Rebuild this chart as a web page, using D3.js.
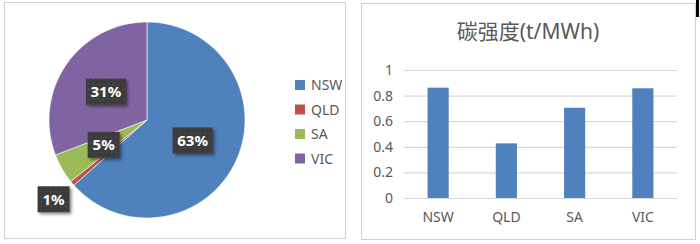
<!DOCTYPE html>
<html>
<head>
<meta charset="utf-8">
<script src="https://cdn.jsdelivr.net/npm/d3@7"></script>
<style>
  body { margin: 0; background: #fff; }
  svg { display: block; font-family: "Noto Sans", "Noto Sans CJK SC", sans-serif; }
</style>
</head>
<body>
<svg id="chart" width="700" height="244"></svg>
<script>
// data
var states = ["NSW", "QLD", "SA", "VIC"];
var shares = [63.4, 0.8, 5.0, 30.8];
var shareLabels = ["63%", "1%", "5%", "31%"];
var intensity = [0.862, 0.427, 0.705, 0.857];
var yTicks = [0, 0.2, 0.4, 0.6, 0.8, 1];
var pieColors = ["#4f81bd", "#c0504d", "#9bbb59", "#8064a2"];
var title = "碳强度(t/MWh)";

var svg = d3.select("#chart");
var textColor = "#595959";

// defs: shadow + dotted label fill
var defs = svg.append("defs");
var shadow = defs.append("filter").attr("id", "shadow")
  .attr("x", "-20%").attr("y", "-20%").attr("width", "150%").attr("height", "150%");
shadow.append("feDropShadow")
  .attr("dx", 2).attr("dy", 2).attr("stdDeviation", 1.5)
  .attr("flood-color", "#000").attr("flood-opacity", 0.45);

var pat = defs.append("pattern").attr("id", "dots")
  .attr("width", 5).attr("height", 5).attr("patternUnits", "userSpaceOnUse");
pat.append("rect").attr("width", 5).attr("height", 5).attr("fill", "#3a3a3a");
pat.append("circle").attr("cx", 2.5).attr("cy", 2.5).attr("r", 0.7).attr("fill", "#5a5a5a");

// panel borders
svg.append("rect").attr("x", 4.5).attr("y", 2.5).attr("width", 341).attr("height", 236)
  .attr("fill", "none").attr("stroke", "#d0d0d0");
svg.append("rect").attr("x", 361.5).attr("y", 3.5).attr("width", 334).attr("height", 236)
  .attr("fill", "none").attr("stroke", "#d0d0d0");
svg.append("rect").attr("x", 696).attr("y", 0).attr("width", 3).attr("height", 17).attr("fill", "#000");

// ---- pie ----
var cx = 147, cy = 120, r = 98;
var pie = d3.pie().sort(null).value(function(d) { return d; });
var arcs = pie(shares);
var arc = d3.arc().innerRadius(0).outerRadius(r);

var pieG = svg.append("g").attr("transform", "translate(" + cx + "," + cy + ")");

pieG.selectAll("path.slice")
  .data(arcs)
  .enter()
  .append("path")
  .attr("class", "slice")
  .attr("d", arc)
  .attr("fill", function(d, i) { return pieColors[i]; })
  .attr("stroke", "#fff")
  .attr("stroke-width", 0.6);

// labels: inside at half radius, tiny slice pushed outside
var labelArc = d3.arc().innerRadius(r * 0.51).outerRadius(r * 0.51);
var outerArc = d3.arc().innerRadius(r * 1.25).outerRadius(r * 1.25);

var lab = pieG.selectAll("g.lab")
  .data(arcs)
  .enter()
  .append("g")
  .attr("class", "lab")
  .attr("transform", function(d, i) {
    var p = (d.data < 2 ? outerArc : labelArc).centroid(d);
    return "translate(" + p[0] + "," + p[1] + ")";
  });

lab.append("rect")
  .attr("x", function(d, i) { return shareLabels[i].length > 2 ? -20 : -16; })
  .attr("y", -13)
  .attr("width", function(d, i) { return shareLabels[i].length > 2 ? 40 : 32; })
  .attr("height", 26)
  .attr("fill", "url(#dots)")
  .attr("filter", "url(#shadow)");

lab.append("text")
  .attr("text-anchor", "middle")
  .attr("dy", "0.36em")
  .attr("fill", "#fff")
  .attr("font-weight", "bold")
  .attr("font-size", 15)
  .text(function(d, i) { return shareLabels[i]; });

// legend
var legend = svg.append("g").attr("transform", "translate(295,80)");
var li = legend.selectAll("g")
  .data(states)
  .enter()
  .append("g")
  .attr("transform", function(d, i) { return "translate(0," + (i * 24.5) + ")"; });
li.append("rect").attr("width", 10).attr("height", 10)
  .attr("fill", function(d, i) { return pieColors[i]; });
li.append("text").attr("x", 16).attr("y", 5).attr("dy", "0.36em")
  .attr("font-size", 14).attr("fill", textColor)
  .text(function(d) { return d; });

// ---- bar chart ----
var plotL = 404, plotR = 677, plotT = 70, plotB = 198;

var x = d3.scaleBand()
  .domain(states)
  .range([plotL, plotR])
  .paddingInner(0.69)
  .paddingOuter(0.345);

var y = d3.scaleLinear()
  .domain([0, 1])
  .range([plotB, plotT]);

svg.append("text")
  .attr("x", 528).attr("y", 39)
  .attr("text-anchor", "middle")
  .attr("font-size", 21)
  .attr("fill", textColor)
  .text(title);

var yAxis = d3.axisLeft(y).tickValues(yTicks).tickSize(-(plotR - plotL)).tickPadding(11)
  .tickFormat(function(d) { return d3.format("")(d); });

svg.append("g")
  .attr("class", "y axis")
  .attr("transform", "translate(" + plotL + ",0)")
  .call(yAxis)
  .call(function(g) {
    g.select(".domain").remove();
    g.selectAll(".tick line").attr("stroke", "#d9d9d9").attr("stroke-width", 1.2);
    g.selectAll(".tick text").attr("font-size", 14).attr("fill", textColor)
      .attr("font-family", "\"Noto Sans\", sans-serif");
  });

svg.selectAll(".bar")
  .data(intensity)
  .enter()
  .append("rect")
  .attr("class", "bar")
  .attr("x", function(d, i) { return x(states[i]); })
  .attr("y", function(d) { return y(d); })
  .attr("width", x.bandwidth())
  .attr("height", function(d) { return plotB - y(d); })
  .attr("fill", "#4f81bd");

var xAxis = d3.axisBottom(x).tickSize(0).tickPadding(14);
svg.append("g")
  .attr("class", "x axis")
  .attr("transform", "translate(0," + plotB + ")")
  .call(xAxis)
  .call(function(g) {
    g.select(".domain").attr("stroke", "#d9d9d9").attr("stroke-width", 1.2);
    g.selectAll(".tick text").attr("font-size", 14).attr("fill", textColor)
      .attr("font-family", "\"Noto Sans\", sans-serif");
  });
</script>
</body>
</html>
